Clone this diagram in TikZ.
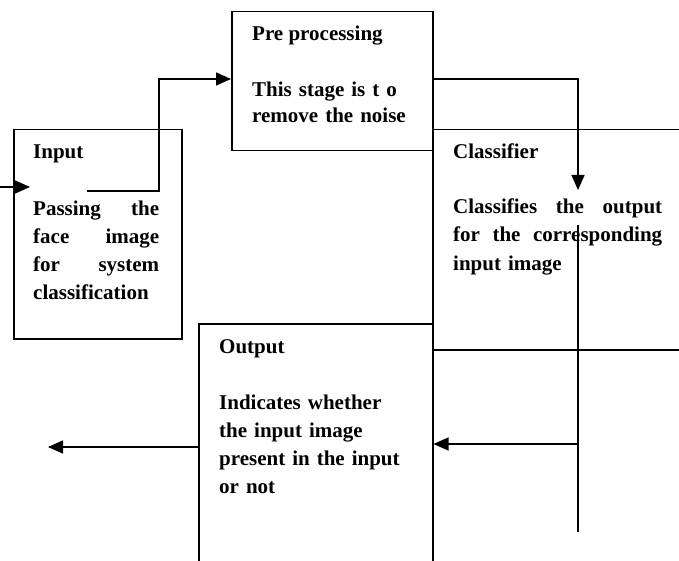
\documentclass[tikz,border=0pt]{standalone}
\usepackage{fontspec}
\setmainfont{Liberation Serif}
\usetikzlibrary{arrows.meta}
\begin{document}
\begin{tikzpicture}[x=1pt,y=-1pt,
  box/.style={draw,line width=1.5pt,inner sep=0pt,anchor=north west},
  ln/.style={line width=1.5pt},
  arr/.style={line width=1.5pt,-{Triangle[length=15pt,width=13pt]}},
  txt/.style={anchor=base west,inner sep=0pt,font=\bfseries\fontsize{21}{28}\selectfont},
  para/.style={txt,align=left}]
\useasboundingbox (0,0) rectangle (679,561);
\clip (0,0) rectangle (679,561);
% boxes
\node[box,minimum width=168pt,minimum height=209pt] (input) at (13,129) {};
\node[box,minimum width=201pt,minimum height=139pt] (pre) at (231,11) {};
\node[box,minimum width=260pt,minimum height=220pt] (cls) at (432,129) {};
\node[box,minimum width=234pt,minimum height=260pt] (out) at (198,323) {};
% texts
\node[txt] (tIn) at (33,159) {Input};
\node[para,text width=126pt] (bIn) at (33,215) {\makebox[126pt]{Passing\hfill the}\\\makebox[126pt]{face\hfill image}\\\makebox[126pt]{for\hfill system}\\classification};
\node[txt] (tPre) at (252,41) {Pre processing};
\node[para,text width=175pt,font=\bfseries\fontsize{21}{26}\selectfont] (bPre) at (252,97) {This stage is t o\\remove the noise};
\node[txt] (tCls) at (453,159) {Classifier};
\node[para,text width=209pt] (bCls) at (453,214) {\makebox[209pt]{Classifies\hfill the\hfill output}\\\makebox[209pt]{for\hfill the\hfill corresponding}\\input image};
\node[txt] (tOut) at (219,353) {Output};
\node[para,text width=205pt] (bOut) at (219,409) {Indicates whether\\the input image\\present in the input\\or not};
% connectors
\coordinate (s0) at (0,187);
\coordinate (s1) at (30,187);
\draw[arr] (s0) -- (s1);
\coordinate (a0) at (87,191);
\coordinate (a1) at (159,79);
\draw[arr] (a0) -| (a1) -- (a1 -| pre.west);
\coordinate (b1) at (578,190);
\draw[arr] (a1 -| pre.east) -| (b1);
\coordinate (c1) at (578,225);
\coordinate (c2) at (578,532);
\coordinate (c3) at (578,444);
\draw[ln] (c1) -- (c2);
\draw[arr] (c3) -- (c3 -| out.east);
\coordinate (d1) at (48,447);
\draw[arr] (d1 -| out.west) -- (d1);
\end{tikzpicture}
\end{document}
